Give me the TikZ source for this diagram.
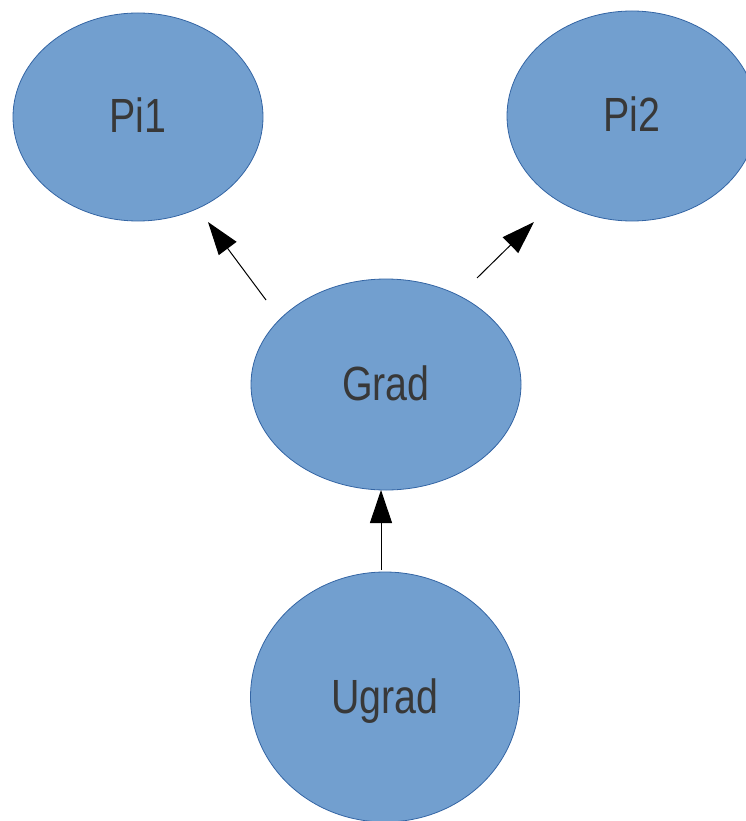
\documentclass[tikz,border=0pt]{standalone}
\usepackage{fontspec}
\setmainfont{Liberation Sans}
\usetikzlibrary{shapes.geometric,arrows.meta}
\definecolor{nodefill}{HTML}{729FCF}
\definecolor{nodeline}{HTML}{3465A4}
\definecolor{textgray}{HTML}{383838}
\tikzset{
  blob/.style={ellipse, draw=nodeline, line width=0.8pt, fill=nodefill, inner sep=0pt,
    text=textgray, font=\fontsize{48}{48}\selectfont, text height=32pt, text depth=0pt},
  link/.style={draw=black, line width=1pt, -{Triangle[length=33pt,width=22pt]}}
}
\newcommand{\narrow}[1]{\scalebox{0.82}[1]{#1}}
\begin{document}
\begin{tikzpicture}[x=1pt,y=-1pt]
\useasboundingbox (0,0) rectangle (746,821);
\clip (0,0) rectangle (746,821);
\node[blob, minimum width=250pt, minimum height=208pt] (pi1) at (138,117) {\narrow{Pi1}};
\node[blob, minimum width=250pt, minimum height=210pt] (pi2) at (632,116) {\narrow{Pi2}};
\node[blob, minimum width=270pt, minimum height=211pt] (grad) at (386,384.5) {\narrow{Grad}};
\node[blob, minimum width=269pt, minimum height=250pt] (ugrad) at (385,697) {\narrow{Ugrad}};
\coordinate (g1) at (266,300);
\coordinate (p1) at (208,222);
\coordinate (g2) at (477,278);
\coordinate (p2) at (534,222);
\coordinate (u0) at (381,570);
\coordinate (g0) at (381,490);
\draw[link] (g1) -- (p1);
\draw[link] (g2) -- (p2);
\draw[link] (u0) -- (g0);
\end{tikzpicture}
\end{document}
